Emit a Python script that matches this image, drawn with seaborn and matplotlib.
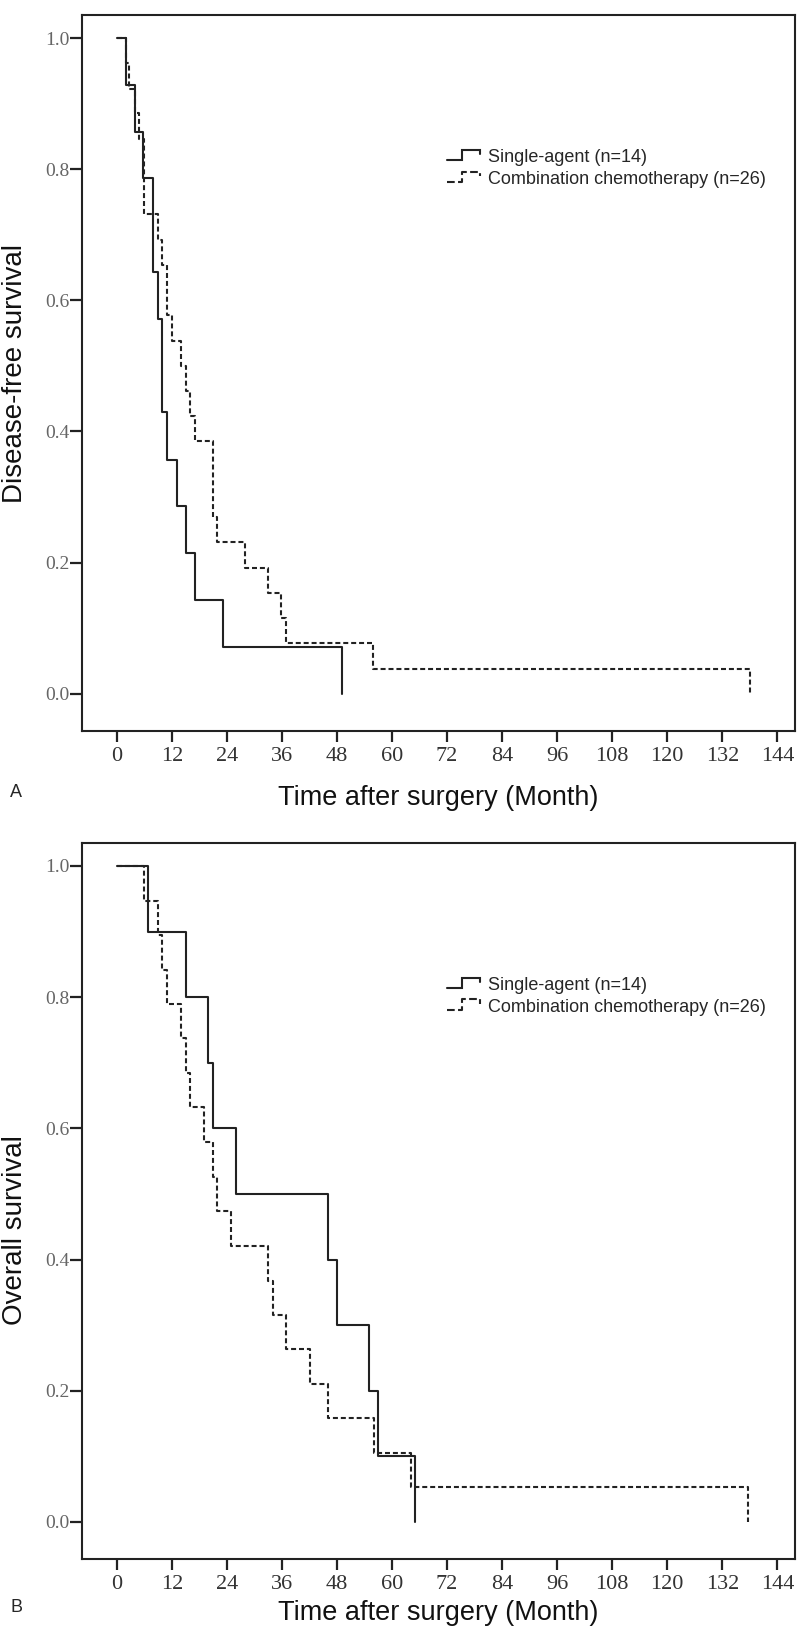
import numpy as np
import pandas as pd
import matplotlib
matplotlib.use("Agg")
import matplotlib.pyplot as plt
from matplotlib.lines import Line2D
from matplotlib.legend_handler import HandlerLine2D
import seaborn as sns

# Kaplan-Meier step curves (time in months, survival fraction)
dfs_single_t = [0, 2.0, 4.0, 5.8, 8.0, 8.9, 9.9, 11.0, 13.1, 15.1, 17.0, 23.1, 49.0]
dfs_single_s = [1.0, 0.929, 0.857, 0.786, 0.643, 0.571, 0.429, 0.357, 0.286, 0.214, 0.143, 0.071, 0.0]

dfs_combo_t = [0, 2.0, 2.75, 4.0, 4.9, 6.0, 8.9, 9.9, 11.0, 12.0, 14.0, 15.1, 16.0, 17.05,
               21.0, 21.9, 27.9, 33.0, 35.9, 37.0, 55.9, 138.0]
dfs_combo_s = [1.0, 0.962, 0.923, 0.885, 0.846, 0.731, 0.692, 0.654, 0.577, 0.538, 0.5, 0.462,
               0.423, 0.385, 0.269, 0.231, 0.192, 0.154, 0.115, 0.077, 0.038, 0.0]

os_single_t = [0, 6.9, 15.1, 20.0, 21.0, 26.0, 46.1, 48.0, 55.0, 57.0, 65.1]
os_single_s = [1.0, 0.9, 0.8, 0.7, 0.6, 0.5, 0.4, 0.3, 0.2, 0.1, 0.0]

os_combo_t = [0, 6.0, 8.9, 9.9, 11.0, 14.0, 15.1, 16.0, 19.0, 21.0, 21.9, 25.0, 33.0, 34.0,
              37.0, 42.1, 46.1, 56.0, 64.1, 137.7]
os_combo_s = [1.0, 0.947, 0.895, 0.842, 0.789, 0.737, 0.684, 0.632, 0.579, 0.526, 0.474, 0.421,
              0.368, 0.316, 0.263, 0.211, 0.158, 0.105, 0.053, 0.0]

groups = ["Single-agent (n=14)", "Combination chemotherapy (n=26)"]
x_ticks = list(range(0, 145, 12))
y_ticks = [0.0, 0.2, 0.4, 0.6, 0.8, 1.0]

sns.set_style("ticks")
plt.rcParams["font.family"] = ["Liberation Sans", "DejaVu Sans"]

DARK = "#222222"
LW = 1.5
DASH = (0, (2.4, 1.4))
SERIF = ["Liberation Serif", "DejaVu Serif"]


class StepHandler(HandlerLine2D):
    # little step glyph like the SPSS legend
    def create_artists(self, legend, orig_handle, xdescent, ydescent, width, height, fontsize, trans):
        x0 = -xdescent
        ylo = -ydescent + height * 0.15
        yhi = -ydescent + height * 0.95
        xs = [x0, x0 + width * 0.45, x0 + width * 0.45, x0 + width * 0.95, x0 + width * 0.95]
        ys = [ylo, ylo, yhi, yhi, yhi - height * 0.35]
        ln = Line2D(xs, ys, color=orig_handle.get_color(), lw=orig_handle.get_linewidth(),
                    linestyle=orig_handle.get_linestyle(), solid_joinstyle="miter")
        ln.set_transform(trans)
        return [ln]


def km_panel(ax, single_t, single_s, combo_t, combo_s, ylabel, letter, ylab_y, xlab_y, letter_y):
    d1 = pd.DataFrame({"t": single_t, "s": single_s})
    d2 = pd.DataFrame({"t": combo_t, "s": combo_s})
    sns.lineplot(data=d1, x="t", y="s", ax=ax, estimator=None, sort=False,
                 drawstyle="steps-post", color=DARK, lw=LW)
    sns.lineplot(data=d2, x="t", y="s", ax=ax, estimator=None, sort=False,
                 drawstyle="steps-post", color=DARK, lw=LW, linestyle=DASH)

    ax.set_xlim(-7.56, 147.8)
    ax.set_ylim(-0.057, 1.035)
    ax.set_xticks(x_ticks)
    ax.set_xticklabels([str(v) for v in x_ticks], family=SERIF, fontsize=16, color="#333333")
    ax.set_yticks(y_ticks)
    ax.set_yticklabels([f"{v:.1f}" for v in y_ticks], family=SERIF, fontsize=14, color="#666666")
    ax.tick_params(axis="x", length=8, width=1.6, pad=3.5, color=DARK)
    ax.tick_params(axis="y", length=8.5, width=1.6, pad=0.5, color=DARK)
    for sp in ax.spines.values():
        sp.set_visible(True)
        sp.set_linewidth(1.5)
        sp.set_color(DARK)

    ax.set_xlabel("Time after surgery (Month)", fontsize=19.5, color="#111111")
    ax.set_ylabel(ylabel, fontsize=20, color="#111111")
    ax.xaxis.set_label_coords(0.5, xlab_y)
    ax.yaxis.set_label_coords(-0.076, ylab_y)
    ax.text(-0.101, letter_y, letter, transform=ax.transAxes, fontsize=13, ha="left", va="center")

    h1 = Line2D([], [], color=DARK, lw=LW)
    h2 = Line2D([], [], color=DARK, lw=LW, linestyle=DASH)
    ax.legend([h1, h2], groups, loc="center left", bbox_to_anchor=(0.512, 0.786),
              frameon=False, fontsize=13, handlelength=1.9, handletextpad=0.4,
              labelspacing=0.25, borderpad=0, borderaxespad=0,
              handler_map={Line2D: StepHandler()})


fig = plt.figure(figsize=(8, 16.39), dpi=100)
ax1 = fig.add_axes([0.1025, 0.554, 0.891, 0.4368])
ax2 = fig.add_axes([0.1025, 0.0486, 0.891, 0.4371])

km_panel(ax1, dfs_single_t, dfs_single_s, dfs_combo_t, dfs_combo_s,
         "Disease-free survival", "A", 0.50, -0.0754, -0.0866)
km_panel(ax2, os_single_t, os_single_s, os_combo_t, os_combo_s,
         "Overall survival", "B", 0.46, -0.0573, -0.067)

fig.savefig("out.png", dpi=100, facecolor="white")
